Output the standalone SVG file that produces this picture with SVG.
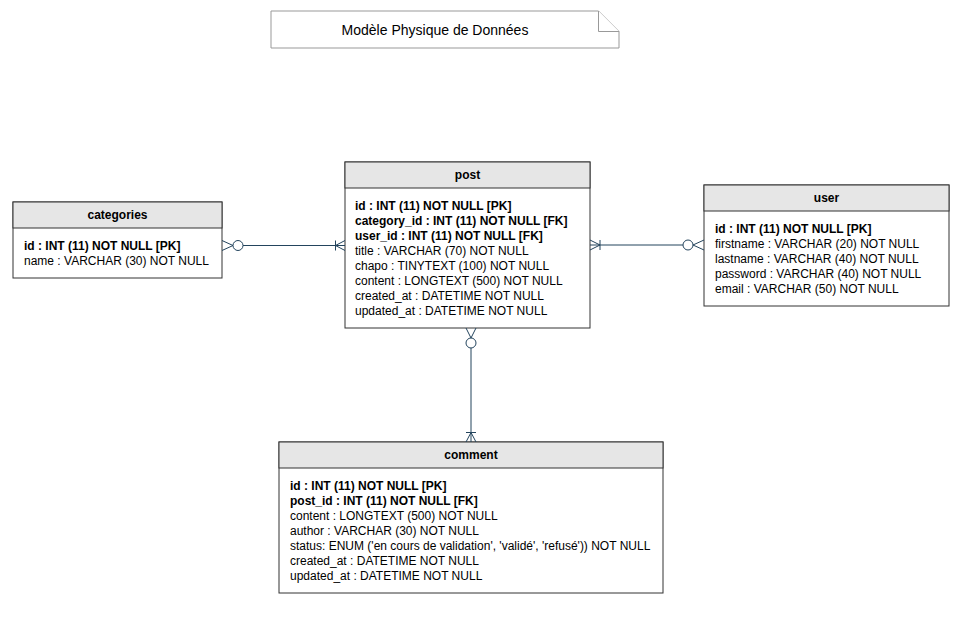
<svg xmlns="http://www.w3.org/2000/svg" width="960" height="617" viewBox="0 0 960 617">
  <style>
    text { font-family: "Liberation Sans", Arial, sans-serif; font-size: 12px; fill: #000; }
    .title { font-size: 14px; text-anchor: middle; }
    .head { font-weight: bold; text-anchor: middle; }
    .key { font-weight: bold; }
    .box { fill: #fff; stroke: #333; stroke-width: 1; }
    .hdr { fill: #e6e6e6; stroke: #333; stroke-width: 1; }
    .note { fill: #fff; stroke: #999; stroke-width: 1; }
    .edge { fill: none; stroke: #23445d; stroke-width: 1; }
    .ring { fill: #fff; stroke: #23445d; stroke-width: 1; }
  </style>

  <!-- title note -->
  <g id="note">
    <path class="note" d="M271 11 H598.5 L619 31.5 V48 H271 Z"/>
    <path class="note" d="M598.5 11 V31.5 H619" fill="none"/>
    <text class="title" x="435" y="35">Modèle Physique de Données</text>
  </g>

  <!-- categories -->
  <g id="categories">
    <rect class="box" x="13" y="202" width="209" height="76"/>
    <rect class="hdr" x="13" y="202" width="209" height="26"/>
    <text class="head" x="117.5" y="219">categories</text>
    <text class="key" x="24" y="250">id : INT (11) NOT NULL [PK]</text>
    <text x="24" y="265">name : VARCHAR (30) NOT NULL</text>
  </g>

  <!-- post -->
  <g id="post">
    <rect class="box" x="345" y="162" width="245" height="166"/>
    <rect class="hdr" x="345" y="162" width="245" height="26"/>
    <text class="head" x="467.5" y="179">post</text>
    <text class="key" x="355" y="210">id : INT (11) NOT NULL [PK]</text>
    <text class="key" x="355" y="225">category_id : INT (11) NOT NULL [FK]</text>
    <text class="key" x="355" y="240">user_id : INT (11) NOT NULL [FK]</text>
    <text x="355" y="255">title : VARCHAR (70) NOT NULL</text>
    <text x="355" y="270">chapo : TINYTEXT (100) NOT NULL</text>
    <text x="355" y="285">content : LONGTEXT (500) NOT NULL</text>
    <text x="355" y="300">created_at : DATETIME NOT NULL</text>
    <text x="355" y="315">updated_at : DATETIME NOT NULL</text>
  </g>

  <!-- user -->
  <g id="user">
    <rect class="box" x="704" y="185" width="245" height="121"/>
    <rect class="hdr" x="704" y="185" width="245" height="26"/>
    <text class="head" x="826.5" y="202">user</text>
    <text class="key" x="715" y="233">id : INT (11) NOT NULL [PK]</text>
    <text x="715" y="248">firstname : VARCHAR (20) NOT NULL</text>
    <text x="715" y="263">lastname : VARCHAR (40) NOT NULL</text>
    <text x="715" y="278">password : VARCHAR (40) NOT NULL</text>
    <text x="715" y="293">email : VARCHAR (50) NOT NULL</text>
  </g>

  <!-- comment -->
  <g id="comment">
    <rect class="box" x="279" y="442" width="384" height="151"/>
    <rect class="hdr" x="279" y="442" width="384" height="26"/>
    <text class="head" x="471" y="459">comment</text>
    <text class="key" x="290" y="490">id : INT (11) NOT NULL [PK]</text>
    <text class="key" x="290" y="505">post_id : INT (11) NOT NULL [FK]</text>
    <text x="290" y="520">content : LONGTEXT (500) NOT NULL</text>
    <text x="290" y="535">author : VARCHAR (30) NOT NULL</text>
    <text x="290" y="550">status: ENUM ('en cours de validation', 'validé', 'refusé')) NOT NULL</text>
    <text x="290" y="565">created_at : DATETIME NOT NULL</text>
    <text x="290" y="580">updated_at : DATETIME NOT NULL</text>
  </g>

  <!-- relationships -->
  <g id="connectors">
    <!-- categories (zero or many) to post (one or many) -->
    <path class="edge" d="M243 245.5 H345"/>
    <path class="edge" d="M222 240.5 L233 245.5 L222 250.5"/>
    <circle class="ring" cx="238" cy="245.5" r="5"/>
    <path class="edge" d="M335.5 240.5 V250.5 M345 240.5 L335.5 245.5 L345 250.5"/>

    <!-- post (one or many) to user (zero or many) -->
    <path class="edge" d="M590 245 H683"/>
    <path class="edge" d="M590 240 L600 245 L590 250 M600 240 V250"/>
    <circle class="ring" cx="688" cy="245" r="5"/>
    <path class="edge" d="M704 240 L693 245 L704 250"/>

    <!-- post (zero or many) to comment (one or many) -->
    <path class="edge" d="M471 348 V442"/>
    <path class="edge" d="M466 328 L471 338 L476 328"/>
    <circle class="ring" cx="471" cy="343" r="5"/>
    <path class="edge" d="M466 432.5 H476 M466 442 L471 432.5 L476 442"/>
  </g>
</svg>
